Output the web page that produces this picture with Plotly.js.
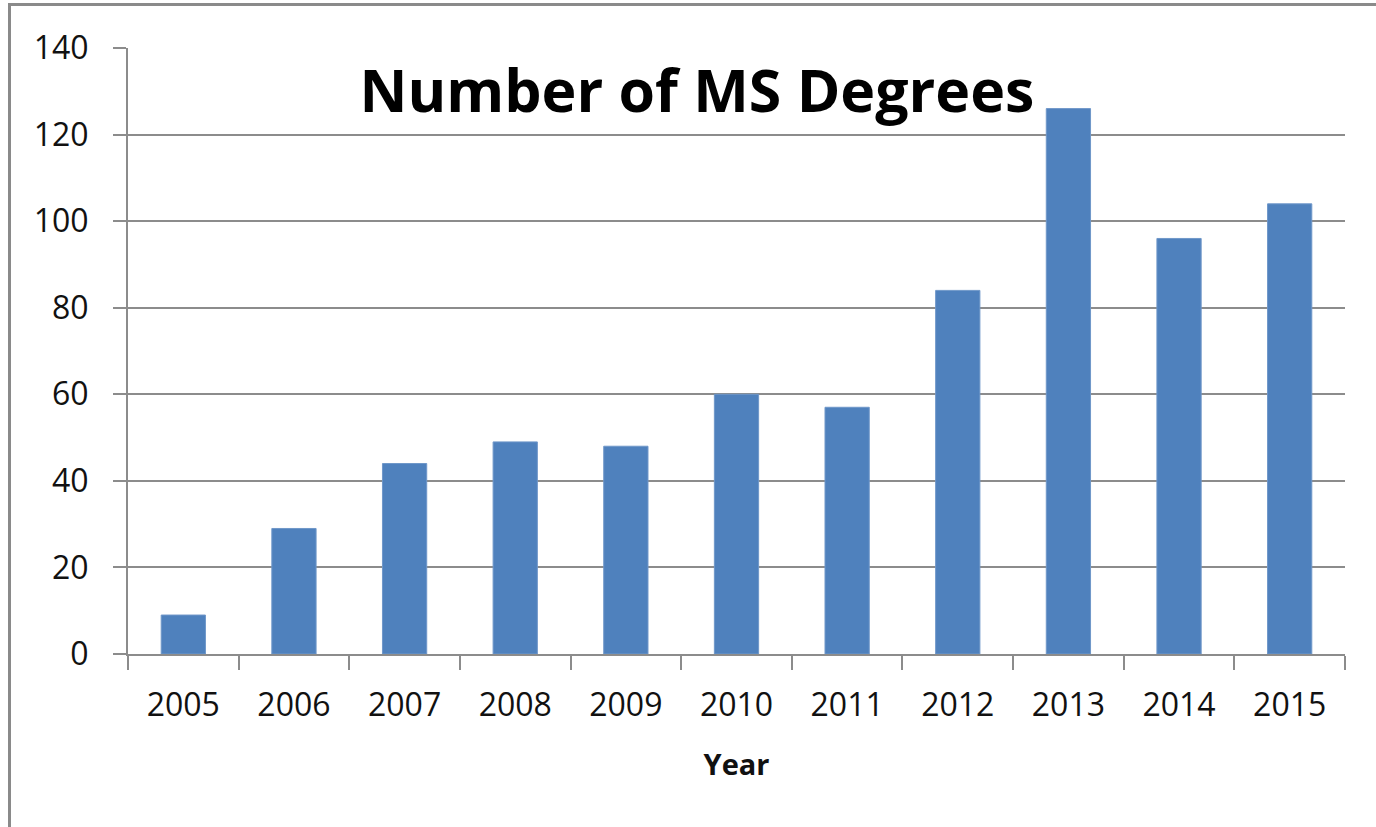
<!DOCTYPE html>
<html>
<head>
<meta charset="utf-8">
<script src="https://cdn.plot.ly/plotly-3.0.1.min.js"></script>
<style>
  html, body { margin: 0; padding: 0; background: #fff; }
  #chart { width: 1376px; height: 827px; }
  #frame { position: absolute; left: 8px; top: 3px; width: 1380px; height: 840px;
           border-top: 3px solid #8a8a8a; border-left: 3px solid #8a8a8a; pointer-events: none; }
</style>
</head>
<body>
<div id="chart"></div>
<div id="frame"></div>
<script>
const years = ["2005","2006","2007","2008","2009","2010","2011","2012","2013","2014","2015"];
const msDegrees = [9, 29, 44, 49, 48, 60, 57, 84, 126, 96, 104];
const yTicks = [0, 20, 40, 60, 80, 100, 120, 140];
const chartTitle = "Number of MS Degrees";
const xTitle = "Year";

const trace = {
  type: "bar",
  x: years,
  y: msDegrees,
  marker: { color: "#4F81BD", line: { color: "#6f97c9", width: 1 } },
  hoverinfo: "x+y"
};

const gridColor = "#8c8c8c";
const layout = {
  width: 1376,
  height: 827,
  margin: { l: 128, r: 31, t: 48, b: 173 },
  paper_bgcolor: "#ffffff",
  plot_bgcolor: "#ffffff",
  showlegend: false,
  bargap: 0.6,
  font: { family: "Open Sans, sans-serif", color: "#222" },
  title: {
    text: "<b>" + chartTitle + "</b>",
    font: { family: "Open Sans, sans-serif", size: 59, color: "#000" },
    x: 0.4675, xref: "paper", xanchor: "center",
    y: 0.89, yref: "container", yanchor: "middle"
  },
  xaxis: {
    type: "category",
    title: { text: "<b>" + xTitle + "</b>", font: { size: 29, color: "#111" }, standoff: 30 },
    tickfont: { size: 32, color: "#111" },
    showgrid: false,
    showline: true, linecolor: gridColor, linewidth: 2,
    ticks: "outside", tickson: "boundaries", ticklen: 14, tickcolor: gridColor, tickwidth: 2,
    ticklabelstandoff: 22,
    zeroline: false
  },
  yaxis: {
    range: [0, 140],
    tickvals: yTicks,
    ticktext: yTicks.map(String),
    tickfont: { size: 32, color: "#111" },
    showgrid: true, gridcolor: gridColor, gridwidth: 2,
    showline: true, linecolor: gridColor, linewidth: 2,
    ticks: "outside", ticklen: 13, tickcolor: gridColor, tickwidth: 2,
    ticklabelstandoff: 18,
    zeroline: false
  }
};

Plotly.newPlot("chart", [trace], layout, { displayModeBar: false, staticPlot: true });
</script>
</body>
</html>
